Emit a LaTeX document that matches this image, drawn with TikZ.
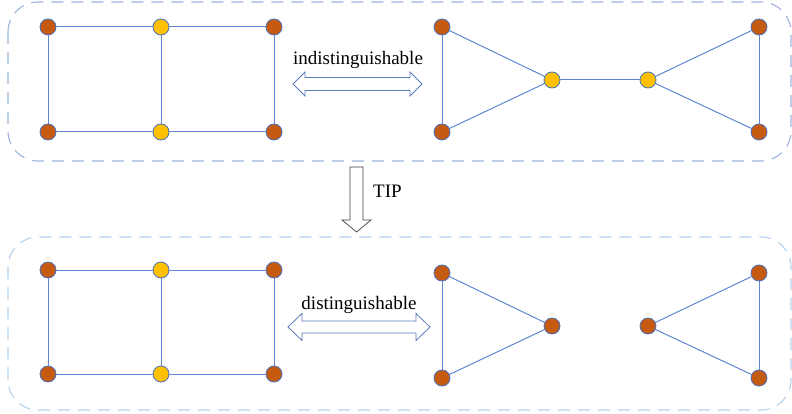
\documentclass[tikz,border=0pt]{standalone}
\usepackage{fontspec}
\setmainfont{Liberation Serif}
\definecolor{brownc}{HTML}{C55A11}
\definecolor{yellowc}{HTML}{FFC000}
\definecolor{nodeline}{HTML}{4A6FBF}
\definecolor{edgec}{HTML}{5F86D2}
\definecolor{boxtop}{HTML}{9DB3DD}
\definecolor{boxbot}{HTML}{B4D0EC}
\definecolor{arrowc}{HTML}{5A7AB8}
\begin{document}
\begin{tikzpicture}[x=1pt,y=-1pt,
  vb/.style={circle,draw=nodeline,fill=brownc,line width=0.8pt,minimum size=16pt,inner sep=0pt},
  vy/.style={circle,draw=nodeline,fill=yellowc,line width=0.8pt,minimum size=16pt,inner sep=0pt},
  edge/.style={draw=edgec,line width=1pt},
  grpbox/.style={rounded corners=30pt,dash pattern=on 12pt off 8pt,line width=1.1pt},
  fatarrow/.style={draw=arrowc,line width=0.8pt,fill=white,line join=miter},
  lbl/.style={anchor=base,inner sep=0pt,font=\fontsize{19}{22}\selectfont}]
\useasboundingbox (0,0) rectangle (792,414);

% group boxes
\draw[grpbox,draw=boxtop] (8,2) rectangle (791,161);
\draw[grpbox,draw=boxbot] (8,237) rectangle (791,410);

% ---- top left graph
\node[vb] (a1) at (48,27) {};
\node[vy] (a2) at (161,27) {};
\node[vb] (a3) at (274,27) {};
\node[vb] (a4) at (48,132) {};
\node[vy] (a5) at (161,132) {};
\node[vb] (a6) at (274,132) {};
\draw[edge] (a1) -- (a2); \draw[edge] (a2) -- (a3);
\draw[edge] (a4) -- (a5); \draw[edge] (a5) -- (a6);
\draw[edge] (a1) -- (a4); \draw[edge] (a2) -- (a5); \draw[edge] (a3) -- (a6);

% ---- top right graph
\node[vb] (b1) at (442,27) {};
\node[vb] (b2) at (442,132) {};
\node[vy] (b3) at (552,80) {};
\node[vy] (b4) at (648,80) {};
\node[vb] (b5) at (759,27) {};
\node[vb] (b6) at (759,132) {};
\draw[edge] (b1) -- (b2); \draw[edge] (b1) -- (b3); \draw[edge] (b2) -- (b3);
\draw[edge] (b3) -- (b4);
\draw[edge] (b4) -- (b5); \draw[edge] (b4) -- (b6); \draw[edge] (b5) -- (b6);

% ---- bottom left graph
\node[vb] (c1) at (48,270) {};
\node[vy] (c2) at (161,270) {};
\node[vb] (c3) at (274,270) {};
\node[vb] (c4) at (48,374) {};
\node[vy] (c5) at (161,374) {};
\node[vb] (c6) at (274,374) {};
\draw[edge] (c1) -- (c2); \draw[edge] (c2) -- (c3);
\draw[edge] (c4) -- (c5); \draw[edge] (c5) -- (c6);
\draw[edge] (c1) -- (c4); \draw[edge] (c2) -- (c5); \draw[edge] (c3) -- (c6);

% ---- bottom right graphs
\node[vb] (d1) at (442,273) {};
\node[vb] (d2) at (442,378) {};
\node[vb] (d3) at (552,326) {};
\node[vb] (d4) at (648,326) {};
\node[vb] (d5) at (759,273) {};
\node[vb] (d6) at (759,378) {};
\draw[edge] (d1) -- (d2); \draw[edge] (d1) -- (d3); \draw[edge] (d2) -- (d3);
\draw[edge] (d4) -- (d5); \draw[edge] (d4) -- (d6); \draw[edge] (d5) -- (d6);

% ---- double arrows
\draw[fatarrow] (293,84) -- (305,72) -- (305,77.5) -- (410,77.5) -- (410,72) -- (422,84)
  -- (410,96) -- (410,90.5) -- (305,90.5) -- (305,96) -- cycle;
\node[lbl] (t1) at (358,65) {indistinguishable};

\draw[fatarrow] (288,327) -- (302,313.5) -- (302,321) -- (416,321) -- (416,313.5) -- (430,327)
  -- (416,340.5) -- (416,333) -- (302,333) -- (302,340.5) -- cycle;
\node[lbl] (t2) at (359,309) {distinguishable};

% ---- TIP arrow
\draw[draw=black!75,line width=0.7pt,fill=white] (350,167) -- (363,167) -- (363,220) -- (371,220)
  -- (356.5,232) -- (342,220) -- (350,220) -- cycle;
\node[lbl,anchor=base west] (t3) at (373,197) {TIP};
\end{tikzpicture}
\end{document}
